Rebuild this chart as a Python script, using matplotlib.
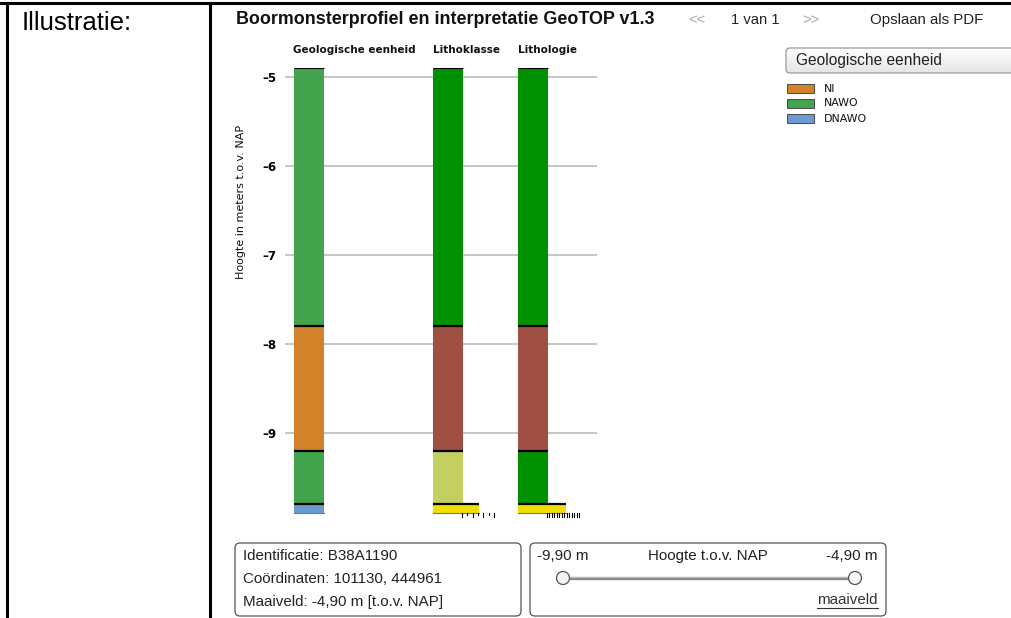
import matplotlib
matplotlib.use("Agg")
import matplotlib.pyplot as plt
from matplotlib.patches import FancyBboxPatch, Rectangle, Circle
import numpy as np

# ---------------------------------------------------------------- data
column_titles = ["Geologische eenheid", "Lithoklasse", "Lithologie"]

depth_top = [-4.9, -7.8, -9.2, -9.8]
depth_bottom = [-7.8, -9.2, -9.8, -9.9]

geologische_eenheid = ["NAWO", "NI", "NAWO", "DNAWO"]
lithoklasse = ["klei", "veen", "kleiig zand", "zand midden"]
lithologie = ["klei", "veen", "klei", "zand"]

legend_units = ["NI", "NAWO", "DNAWO"]
y_ticks = [-5, -6, -7, -8, -9]

maaiveld = -4.90
einddiepte = -9.90
identificatie = "B38A1190"
coordinaten = (101130, 444961)

# ---------------------------------------------------------------- styles
unit_colors = {"NI": "#d2822a", "NAWO": "#42a54e", "DNAWO": "#6a9bd1"}
litho_colors = {"klei": "#009100", "veen": "#a05042",
                "kleiig zand": "#c4cf62", "zand midden": "#f0df00",
                "zand": "#f0df00"}
# column width (px) grows with grain size
litho_width = {"klei": 30, "veen": 30, "kleiig zand": 30,
               "zand midden": 46, "zand": 48}
unit_width = 30

W, H, DPI = 1012, 618, 100
fig = plt.figure(figsize=(W / DPI, H / DPI), dpi=DPI)
fig.patch.set_facecolor("white")

# full-page axes in pixel coordinates for the frame and the panels
page = fig.add_axes([0, 0, 1, 1])
page.set_xlim(0, W)
page.set_ylim(H, 0)
page.axis("off")
page.set_zorder(0)

SANS = "Liberation Sans"
TXT = "#222222"
PANEL_FS = 10.9

# table frame
page.plot([0, W], [3, 3], color="black", lw=2.2)
page.plot([7, 7], [3, H], color="black", lw=2.2)
page.plot([210, 210], [3, H], color="black", lw=2.2)
page.text(22, 23, "Illustratie:", fontsize=18.5, family=SANS, va="center", ha="left")

# header line
page.text(236, 20, "Boormonsterprofiel en interpretatie GeoTOP v1.3", fontsize=12.9,
          family=SANS, weight="bold", va="center", ha="left", color="#111")
page.text(688, 20, "<<", fontsize=10.6, family=SANS, color="#aaaaaa", va="center")
page.text(731, 20, "1 van 1", fontsize=10.6, family=SANS, color=TXT, va="center")
page.text(802, 20, ">>", fontsize=10.6, family=SANS, color="#aaaaaa", va="center")
page.text(870, 20, "Opslaan als PDF", fontsize=10.8, family=SANS, color=TXT, va="center")

# dropdown
dd = FancyBboxPatch((786, 48), 240, 25, boxstyle="round,pad=0,rounding_size=4",
                    fc="none", ec="#9a9a9a", lw=0.9, zorder=3)
page.add_patch(dd)
grad = np.linspace(0.995, 0.9, 40)[:, None] * np.ones((1, 2))
im = page.imshow(np.dstack([grad, grad, grad]), extent=(786, 1026, 73, 48),
                 aspect="auto", origin="upper", zorder=2)
im.set_clip_path(dd)
page.set_xlim(0, W)
page.set_ylim(H, 0)
page.text(796, 61, "Geologische eenheid", fontsize=11.2, family=SANS,
          color=TXT, va="center", ha="left", zorder=4)

# legend
for i, unit in enumerate(legend_units):
    y0 = 84 + 15 * i
    page.add_patch(Rectangle((787, y0), 27, 9, fc=unit_colors[unit],
                             ec="#4a4a4a", lw=0.7))
    page.text(824, y0 + 4.5, unit, fontsize=7.9, family="DejaVu Sans",
              va="center", ha="left", color="#111")

# column headers
header_x = [293, 433, 518]
for x, title in zip(header_x, column_titles):
    page.text(x, 50, title, fontsize=7.5, family="DejaVu Sans", weight="bold",
              va="center", ha="left", color="#111")

page.text(241, 202, "Hoogte in meters t.o.v. NAP", rotation=90, fontsize=8,
          family="DejaVu Sans", va="center", ha="center", color="#111")

# ---------------------------------------------------------------- profile chart
AX_L, AX_R = 285, 597
Y_TOP_PX, Y_BOT_PX = 68.1, 513.1
ax = fig.add_axes([AX_L / W, 1 - Y_BOT_PX / H, (AX_R - AX_L) / W,
                   (Y_BOT_PX - Y_TOP_PX) / H])
ax.set_zorder(1)
ax.patch.set_alpha(0)
ax.set_xlim(0, AX_R - AX_L)
ax.set_ylim(einddiepte, maaiveld)
for s in ax.spines.values():
    s.set_visible(False)
ax.set_xticks([])
ax.set_yticks(y_ticks)
ax.set_yticklabels(["\u2013%d" % abs(t) for t in y_ticks], fontsize=8.5,
                   weight="bold", family="DejaVu Sans")
ax.tick_params(axis="y", length=0, pad=6)
ax.yaxis.grid(True, color="#c6c6c6", lw=1.4)
ax.set_axisbelow(True)

col_left = [294 - AX_L, 433 - AX_L, 518 - AX_L]
tops = np.array(depth_top)
bottoms = np.array(depth_bottom)
heights = tops - bottoms

columns = [
    ([unit_colors[u] for u in geologische_eenheid], [unit_width] * len(tops)),
    ([litho_colors[c] for c in lithoklasse], [litho_width[c] for c in lithoklasse]),
    ([litho_colors[c] for c in lithologie], [litho_width[c] for c in lithologie]),
]

for left, (colors, widths) in zip(col_left, columns):
    ax.bar([left] * len(tops), heights, width=widths, bottom=bottoms,
           align="edge", color=colors, linewidth=0, zorder=2)
    for i, (t, w) in enumerate(zip(tops, widths)):
        ax.plot([left, left + w], [t, t], color="black",
                lw=0.8 if i == 0 else 1.6, solid_capstyle="butt", zorder=3)
    ax.plot([left, left + widths[-1]], [bottoms[-1], bottoms[-1]],
            color="#777777", lw=0.8, zorder=3, clip_on=False)

# grain-size scale below the sand layers
scale_divisions = [None, 6, 13]
for left, n in zip(col_left, scale_divisions):
    if n is None:
        continue
    xs = np.linspace(left + 29, left + 61, n + 1)
    for k, x in enumerate(xs):
        length = 0.045 if (k % 2 == 0 or n > 10) else 0.02
        ax.plot([x, x], [einddiepte, einddiepte - length], color="black",
                lw=0.8, clip_on=False, zorder=3)

# ---------------------------------------------------------------- info panels
box1 = FancyBboxPatch((235, 543), 286, 73, boxstyle="round,pad=0,rounding_size=5",
                      fc="white", ec="#555555", lw=0.9)
page.add_patch(box1)
info_lines = [
    "Identificatie: %s" % identificatie,
    "Coördinaten: %d, %d" % coordinaten,
    "Maaiveld: %s m [t.o.v. NAP]" % ("%.2f" % maaiveld).replace(".", ","),
]
for i, line in enumerate(info_lines):
    page.text(243, 556 + 23 * i, line, fontsize=PANEL_FS, family=SANS, color=TXT,
              va="center", ha="left")

box2 = FancyBboxPatch((530, 543), 356, 73, boxstyle="round,pad=0,rounding_size=5",
                      fc="white", ec="#555555", lw=0.9)
page.add_patch(box2)
fmt = lambda v: ("%.2f" % v).replace(".", ",") + " m"
page.text(537, 556, fmt(einddiepte), fontsize=PANEL_FS, family=SANS, color=TXT,
          va="center", ha="left")
page.text(708, 556, "Hoogte t.o.v. NAP", fontsize=PANEL_FS, family=SANS, color=TXT,
          va="center", ha="center")
page.text(878, 556, fmt(maaiveld), fontsize=PANEL_FS, family=SANS, color=TXT,
          va="center", ha="right")

# slider
page.plot([563, 855], [578, 578], color="#8a8a8a", lw=2.4, solid_capstyle="butt")
page.plot([563, 855], [577, 577], color="#c8c8c8", lw=0.6)
for cx in (563, 855):
    page.add_patch(Circle((cx, 578), 6.5, fc="#f4f4f4", ec="#555555", lw=0.9, zorder=4))

mv = page.text(878, 600, "maaiveld", fontsize=PANEL_FS, family=SANS, color="#333",
               va="center", ha="right")
fig.canvas.draw()
bb = mv.get_window_extent().transformed(page.transData.inverted())
page.plot([bb.x0, bb.x1], [607.5, 607.5], color="#333", lw=0.8)

fig.savefig("out.png", dpi=DPI, facecolor="white")
